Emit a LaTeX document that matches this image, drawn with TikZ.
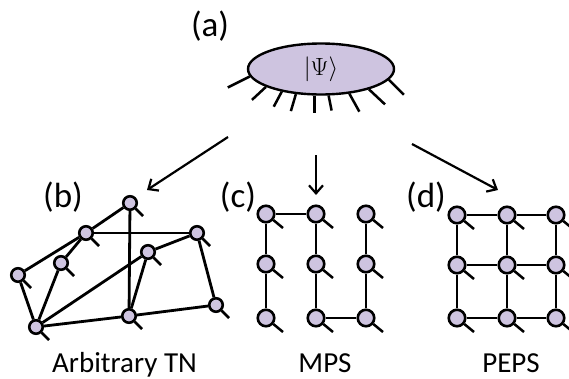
\documentclass[tikz,border=0pt]{standalone}
\usepackage{fontspec}
\setmainfont{Carlito}
\usetikzlibrary{shapes.geometric,arrows.meta}

\definecolor{sitecol}{RGB}{206,196,224}

\begin{document}
\begin{tikzpicture}[x=1pt,y=-1pt,
	site/.style={circle,draw,line width=2.6pt,fill=sitecol,minimum size=16.5pt,inner sep=0pt},
	tnsite/.style={site,minimum size=13.5pt},
	bond/.style={line width=2.8pt},
	leg/.style={line width=2.5pt},
	arr/.style={line width=2.2pt,-{Straight Barb[length=8pt,width=14pt]}},
	lbl/.style={font=\fontsize{35}{40}\selectfont},
	capt/.style={font=\fontsize{29}{32}\selectfont,anchor=base}]
	\useasboundingbox (0,0) rectangle (569,378);
	
	% the state
	\node[ellipse,draw,line width=2.4pt,fill=sitecol,minimum width=146pt,minimum height=51pt,inner sep=0pt] (psi) at (321,69) {\fontsize{29}{32}\selectfont$\bigl|\Psi\bigr\rangle$};
	\foreach \a/\dx/\dy in {186/-22/11,198/-14/13,210/-8/15,225/-5/17,256/0/17,286/3/15,319/10/18,337/16/15,351/15/15}
		\draw[leg] (psi.\a) -- ++(\dx,\dy);
	
	\node[lbl] (la) at (210,26) {(a)};
	\node[lbl] (lb) at (63,197) {(b)};
	\node[lbl] (lc) at (238,197) {(c)};
	\node[lbl] (ld) at (426,197) {(d)};
	
	% arrows
	\coordinate (s1) at (228,137);
	\coordinate (e1) at (147,190);
	\coordinate (s2) at (316,155);
	\coordinate (e2) at (316,195);
	\coordinate (s3) at (412,144);
	\coordinate (e3) at (498,190);
	\draw[arr] (s1) -- (e1);
	\draw[arr] (s2) -- (e2);
	\draw[arr] (s3) -- (e3);
	
	% arbitrary TN
	\node[tnsite] (t1) at (18,275) {};
	\node[tnsite] (t2) at (61,263) {};
	\node[tnsite] (t3) at (86,233) {};
	\node[tnsite] (t4) at (130,203) {};
	\node[tnsite] (t5) at (148,252) {};
	\node[tnsite] (t6) at (197,233) {};
	\node[tnsite] (t7) at (216,305) {};
	\node[tnsite] (t8) at (129,316) {};
	\node[tnsite] (t9) at (36,327) {};
	\foreach \u/\v in {t1/t3,t3/t4,t1/t9,t2/t3,t2/t9,t9/t5,t5/t6,t3/t6,t4/t8,t5/t8,t8/t9,t8/t7,t6/t7}
		\draw[bond] (\u) -- (\v);
	\foreach \n in {t1,t2,t3,t4,t5,t6,t7,t8,t9}
		\draw[leg] (\n.center) ++(13,13) -- (\n);
	
	% MPS
	\foreach \i/\x in {1/266,2/316,3/366}
		\foreach \j/\y in {1/214,2/264,3/318}
			\node[site] (m\i\j) at (\x,\y) {};
	\foreach \u/\v in {m11/m12,m12/m13,m11/m21,m21/m22,m22/m23,m23/m33,m33/m32,m32/m31}
		\draw[bond] (\u) -- (\v);
	\foreach \n in {m11,m12,m13,m21,m22,m23,m31,m32,m33}
		\draw[leg] (\n.center) ++(17,14) -- (\n);
	
	% PEPS
	\foreach \i/\x in {1/457,2/507,3/556}
		\foreach \j/\y in {1/215,2/265,3/318}
			\node[site] (p\i\j) at (\x,\y) {};
	\foreach \i in {1,2,3}{
		\draw[bond] (p\i1) -- (p\i2) -- (p\i3);
		\draw[bond] (p1\i) -- (p2\i) -- (p3\i);
	}
	\foreach \n in {p11,p12,p13,p21,p22,p23,p31,p32,p33}
		\draw[leg] (\n.center) ++(17,14) -- (\n);
	
	\node[capt] (ctn) at (124.5,372) {Arbitrary TN};
	\node[capt] (cmps) at (325,372) {MPS};
	\node[capt] (cpeps) at (511,372) {PEPS};
\end{tikzpicture}
\end{document}
